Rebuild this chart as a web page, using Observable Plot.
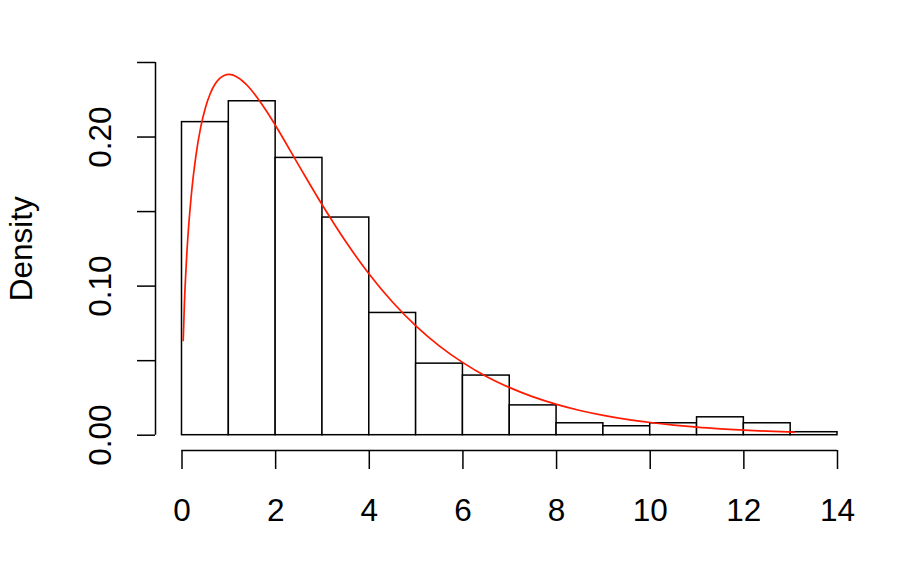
<!DOCTYPE html>
<html>
<head>
<meta charset="utf-8">
<script src="https://cdn.jsdelivr.net/npm/d3@7"></script>
<script src="https://cdn.jsdelivr.net/npm/@observablehq/plot@0.6"></script>
<style>
  html, body { margin: 0; padding: 0; background: #fff; }
  svg { display: block; }
</style>
</head>
<body>
<div id="chart"></div>
<script>
// Histogram bins (left edge, right edge) and densities
const binStart = [0, 1, 2, 3, 4, 5, 6, 7, 8, 9, 10, 11, 12, 13];
const binEnd   = [1, 2, 3, 4, 5, 6, 7, 8, 9, 10, 11, 12, 13, 14];
const binDensity = [0.210, 0.224, 0.186, 0.146, 0.082, 0.048, 0.040, 0.020, 0.008, 0.006, 0.008, 0.012, 0.008, 0.002];

// Red density curve
const curveX = [0.026, 0.05, 0.1, 0.2, 0.3, 0.4, 0.5, 0.6, 0.7, 0.8, 0.9, 1.0, 1.2, 1.4, 1.6, 1.8, 2.0, 2.5, 3.0, 3.5, 4.0, 4.5, 5.0, 5.5, 6.0, 6.5, 7.0, 7.5, 8.0, 8.5, 9.0, 9.5, 10.0, 10.5, 11.0, 11.5, 12.0, 12.5, 13.08];
const curveY = [0.0635, 0.0870, 0.1200, 0.1614, 0.1881, 0.2066, 0.2197, 0.2289, 0.2352, 0.2392, 0.2413, 0.2420, 0.2398, 0.2344, 0.2267, 0.2176, 0.2076, 0.1807, 0.1542, 0.1297, 0.1080, 0.0892, 0.0732, 0.0598, 0.0487, 0.0394, 0.0319, 0.0257, 0.0207, 0.0166, 0.0133, 0.0106, 0.0085, 0.0068, 0.0054, 0.0043, 0.0034, 0.0027, 0.0021];

// Axis ticks and labels
const xTicks = [0, 2, 4, 6, 8, 10, 12, 14];
const xTickLabels = ["0", "2", "4", "6", "8", "10", "12", "14"];
const yTicks = [0, 0.05, 0.10, 0.15, 0.20, 0.25];
const yLabelTicks = [0, 0.10, 0.20];
const yLabelText = ["0.00", "0.10", "0.20"];
const yTitle = "Density";

const bins = binStart.map((s, i) => ({x1: s, x2: binEnd[i], y: binDensity[i]}));
const curve = curveX.map((x, i) => ({x, y: curveY[i]}));
const xLab = xTicks.map((t, i) => ({t, s: xTickLabels[i]}));
const yLab = yLabelTicks.map((t, i) => ({t, s: yLabelText[i]}));

const FS = 31.5;
const FONT = "'Liberation Sans', Arial, Helvetica, sans-serif";

const chart = Plot.plot({
  width: 910,
  height: 564,
  marginLeft: 181.5,
  marginRight: 73,
  marginTop: 62,
  marginBottom: 129.3,
  style: {fontFamily: FONT, background: "#fff", color: "#000"},
  x: {domain: [0, 14]},
  y: {domain: [0, 0.25]},
  marks: [
    Plot.rectY(bins, {x1: "x1", x2: "x2", y: "y", fill: "white", stroke: "black", strokeWidth: 1.5}),
    Plot.line(curve, {x: "x", y: "y", stroke: "#ff1a00", strokeWidth: 1.7, curve: "monotone-x"}),
    // y axis (offset, R style)
    Plot.ruleX([0], {x: () => 0, y1: () => yTicks[0], y2: () => yTicks[yTicks.length - 1], dx: -26.5, stroke: "black", strokeWidth: 1.5}),
    Plot.axisY(yTicks, {anchor: "left", tickSize: 18, tickFormat: () => "", label: null, dx: -26.5, strokeWidth: 1.5, stroke: "black"}),
    Plot.text(yLab, {y: "t", text: "s", frameAnchor: "left", rotate: -90, textAnchor: "middle", lineAnchor: "middle", dx: -81.5, fontSize: FS, fill: "black"}),
    Plot.text([yTitle], {text: d => d, frameAnchor: "left", rotate: -90, textAnchor: "middle", lineAnchor: "middle", dx: -160.5, fontSize: FS, fill: "black"}),
    // x axis (offset, R style)
    Plot.ruleY([0], {y: () => 0, x1: () => xTicks[0], x2: () => xTicks[xTicks.length - 1], dy: 15.3, stroke: "black", strokeWidth: 1.5}),
    Plot.axisX(xTicks, {anchor: "bottom", tickSize: 19, tickFormat: () => "", label: null, dy: 15.3, strokeWidth: 1.5, stroke: "black"}),
    Plot.text(xLab, {x: "t", text: "s", frameAnchor: "bottom", textAnchor: "middle", lineAnchor: "middle", dy: 75.3, fontSize: FS, fill: "black"})
  ]
});
document.getElementById("chart").appendChild(chart);
</script>
</body>
</html>
